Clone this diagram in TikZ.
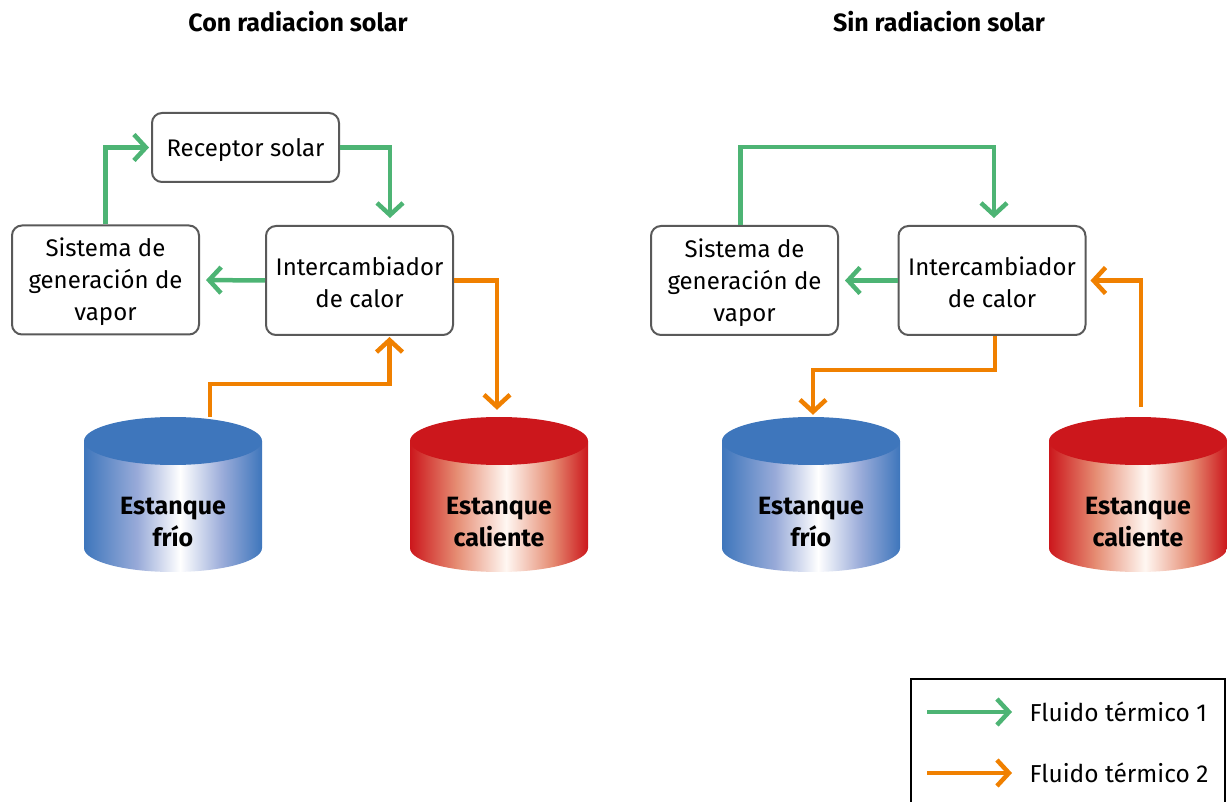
\documentclass[tikz,border=0pt]{standalone}
\usepackage{fontspec}
\setmainfont{Fira Sans}
\usetikzlibrary{arrows.meta}
\definecolor{fgreen}{RGB}{77,180,116}
\definecolor{forange}{RGB}{240,128,0}
\definecolor{boxgray}{RGB}{89,89,89}
\definecolor{tblue}{RGB}{62,118,188}
\definecolor{tred}{RGB}{204,23,28}
\pgfdeclarehorizontalshading{coldsh}{100bp}{rgb(0bp)=(0.243,0.463,0.737); rgb(25bp)=(0.243,0.463,0.737); rgb(40bp)=(0.60,0.67,0.85); rgb(52bp)=(1,1,1); rgb(64bp)=(0.60,0.67,0.85); rgb(75bp)=(0.243,0.463,0.737); rgb(100bp)=(0.243,0.463,0.737)}
\pgfdeclarehorizontalshading{hotsh}{100bp}{rgb(0bp)=(0.80,0.09,0.11); rgb(25bp)=(0.80,0.09,0.11); rgb(38bp)=(0.90,0.55,0.45); rgb(52bp)=(1,0.97,0.95); rgb(65bp)=(0.90,0.55,0.45); rgb(75bp)=(0.80,0.09,0.11); rgb(100bp)=(0.80,0.09,0.11)}
\newcommand{\mytank}[3]{%
  \shade[shading=#2] ({#1-89},441) -- ({#1-89},548)
    .. controls ({#1-89},561.25) and ({#1-49.15},572) .. (#1,572)
    .. controls ({#1+49.15},572) and ({#1+89},561.25) .. ({#1+89},548)
    -- ({#1+89},441) -- cycle;
  \fill[#3] (#1,441) ellipse [x radius=89, y radius=24];}
\begin{document}
\begin{tikzpicture}[x=1pt,y=-1pt,
  txt/.style={font=\fontsize{24}{32}\selectfont, align=center, inner sep=0pt},
  procbox/.style={draw=boxgray, line width=2pt, rounded corners=10pt,
    fill=white, minimum width=187pt, minimum height=109pt, inner sep=0pt},
  titletxt/.style={font=\fontsize{25}{30}\selectfont\bfseries},
  tanklbl/.style={font=\fontsize{25}{32}\selectfont\bfseries, align=center},
  tankshape/.style={minimum width=178pt, minimum height=155pt, inner sep=0pt},
  flow/.style={line width=4.5pt, line cap=butt, line join=miter,
    -{Straight Barb[length=12pt,width=26pt]}},
  garr/.style={flow, draw=fgreen},
  oarr/.style={flow, draw=forange},
  legtxt/.style={font=\fontsize{24.5}{28}\selectfont, anchor=west}]
\useasboundingbox (0,0) rectangle (1227,802);
% titles
\node[titletxt] (t1) at (298,22) {Con radiacion solar};
\node[titletxt] (t2) at (939,22) {Sin radiacion solar};
% left panel boxes
\node[procbox, minimum height=69pt] (rec1) at (245.5,147.5) {};
\node[procbox] (sis1) at (105.5,280) {};
\node[procbox] (int1) at (359.5,280.5) {};
% right panel boxes
\node[procbox] (sis2) at (744.5,280.5) {};
\node[procbox] (int2) at (992,280.5) {};
% box texts
\node[txt] (rec1t) at ([yshift=-3pt]rec1.center) {Receptor solar};
\node[txt] (sis1t) at ([yshift=-2pt]sis1.center) {Sistema de\\generación de\\vapor};
\node[txt] (int1t) at ([yshift=-2pt]int1.center) {Intercambiador\\de calor};
\node[txt] (sis2t) at ([yshift=-2pt]sis2.center) {Sistema de\\generación de\\vapor};
\node[txt] (int2t) at ([yshift=-2pt]int2.center) {Intercambiador\\de calor};
% tank frames (named)
\node[tankshape] (cold1) at (173,494.5) {};
\node[tankshape] (hot1) at (499,494.5) {};
\node[tankshape] (cold2) at (811,494.5) {};
\node[tankshape] (hot2) at (1138,494.5) {};
% connectors left
\draw[garr, shorten >=2pt] (sis1.north) |- (rec1.west);
\draw[garr, shorten >=7pt] (rec1.east) -| ([xshift=30.5pt]int1.north);
\draw[garr, shorten >=6pt] (int1.west) -- (sis1.east);
\draw[oarr, shorten >=1pt] ([xshift=37pt]cold1.north) -- ++(0,-33) -| ([xshift=30pt]int1.south);
\draw[oarr, shorten >=7pt] (int1.east) -| ([xshift=-2pt]hot1.north);
% connectors right
\draw[garr, shorten >=7pt] ([xshift=-4pt]sis2.north) -- ++(0,-78) -| ([xshift=2pt]int2.north);
\draw[garr, shorten >=6pt] (int2.west) -- (sis2.east);
\draw[oarr, shorten >=2pt] ([xshift=3pt]int2.south) -- ++(0,34) -| ([xshift=2pt]cold2.north);
\draw[oarr, shorten >=4pt] ([xshift=3pt,yshift=10pt]hot2.north) |- (int2.east);
% tanks
\mytank{173}{coldsh}{tblue}
\mytank{499}{hotsh}{tred}
\mytank{811}{coldsh}{tblue}
\mytank{1138}{hotsh}{tred}
\node[tanklbl] (cold1l) at (173,522) {Estanque\\frío};
\node[tanklbl] (hot1l) at (499,522) {Estanque\\caliente};
\node[tanklbl] (cold2l) at (811,522) {Estanque\\frío};
\node[tanklbl] (hot2l) at (1138,522) {Estanque\\caliente};
% legend
\node[draw=black, line width=1.5pt, minimum width=314pt, minimum height=160pt,
  anchor=north west, inner sep=0pt] (leg) at (910,678) {};
\coordinate (lg1a) at (927,712);
\coordinate (lg1b) at (1012,712);
\coordinate (lg2a) at (927,773);
\coordinate (lg2b) at (1012,773);
\draw[garr] (lg1a) -- (lg1b);
\draw[oarr] (lg2a) -- (lg2b);
\node[legtxt] (lt1) at (1026,712) {Fluido térmico 1};
\node[legtxt] (lt2) at (1026,773) {Fluido térmico 2};
\end{tikzpicture}
\end{document}
